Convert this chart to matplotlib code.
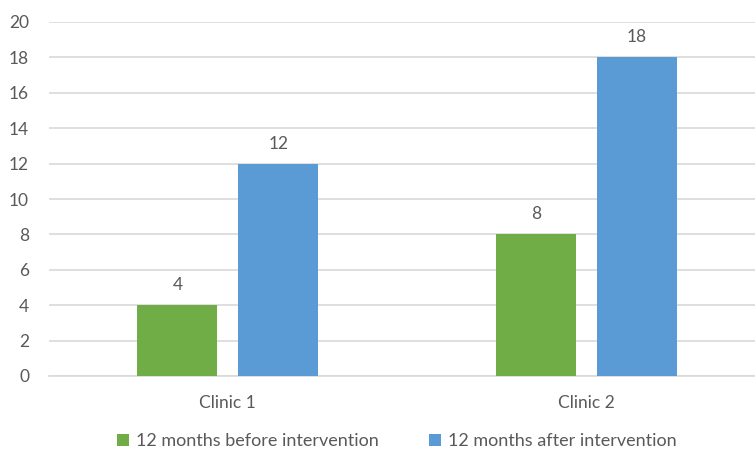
import matplotlib
matplotlib.use("Agg")
import matplotlib.pyplot as plt
import numpy as np

categories = ["Clinic 1", "Clinic 2"]
before = [4, 8]
after = [12, 18]
series_names = ["12 months before intervention", "12 months after intervention"]
y_ticks = [0, 2, 4, 6, 8, 10, 12, 14, 16, 18, 20]

GREEN = "#70AD47"
BLUE = "#5B9BD5"
TEXT = "#595959"
GRID = "#D9D9D9"

plt.rcParams["font.family"] = ["Lato", "DejaVu Sans"]

fig = plt.figure(figsize=(7.55, 4.5), dpi=100)
ax = fig.add_axes([48.5 / 755, 1 - 376 / 450, 1 - 48.5 / 755, (376 - 22) / 450])

x = np.arange(len(categories))
width = 0.223
gap = 0.058
offset = (width + gap) / 2

b1 = ax.bar(x - offset, before, width, color=GREEN, label=series_names[0], zorder=3)
b2 = ax.bar(x + offset, after, width, color=BLUE, label=series_names[1], zorder=3)

for bars, vals in ((b1, before), (b2, after)):
    for rect, v in zip(bars, vals):
        ax.annotate(str(v), (rect.get_x() + rect.get_width() / 2, v),
                    xytext=(0, 20), textcoords="offset pixels",
                    ha="center", va="center", fontsize=12.5, color=TEXT)

ax.set_ylim(0, 20)
ax.set_yticks(y_ticks)
ax.set_xlim(-0.5, 1.5 - 11 / 359)
ax.set_xticks(x)
ax.set_xticklabels(categories)

ax.yaxis.grid(True, color=GRID, linewidth=1.2, zorder=0)
ax.set_axisbelow(True)
for side in ("top", "right", "left"):
    ax.spines[side].set_visible(False)
ax.spines["bottom"].set_color(GRID)
ax.spines["bottom"].set_linewidth(1.2)
ax.tick_params(axis="both", length=0, labelsize=12.5, colors=TEXT)
ax.tick_params(axis="y", pad=14)
ax.tick_params(axis="x", pad=14)

fig.legend(handles=[b1, b2], labels=series_names, loc="center",
           bbox_to_anchor=(0.526, 1 - 441 / 450), ncol=2, frameon=False,
           handlelength=0.65, handleheight=0.65, handletextpad=0.4,
           columnspacing=2.8, fontsize=13, labelcolor=TEXT)

fig.savefig("out.png", dpi=100)
